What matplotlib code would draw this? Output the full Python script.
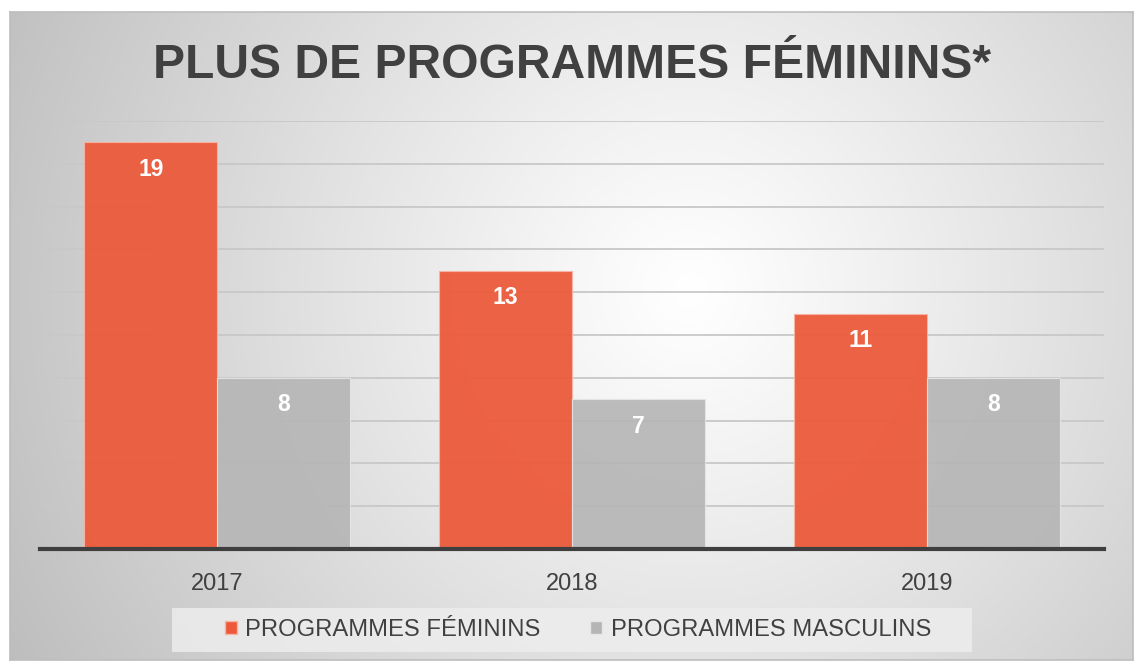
import numpy as np
import matplotlib
matplotlib.use("Agg")
import matplotlib.pyplot as plt
from matplotlib.patches import Rectangle

plt.rcParams['font.family'] = ['Liberation Sans', 'DejaVu Sans']

categories = ["2017", "2018", "2019"]
feminins = [19, 13, 11]
masculins = [8, 7, 8]
series_names = ["PROGRAMMES FÉMININS", "PROGRAMMES MASCULINS"]
title = "PLUS DE PROGRAMMES FÉMININS*"

W, H = 1135, 661
fig = plt.figure(figsize=(W / 100, H / 100), dpi=100)
fig.patch.set_facecolor("white")

# background panel with radial gradient
bx0, by0, bx1, by1 = 10, 12, 1133, 660
bg = fig.add_axes([bx0 / W, 1 - by1 / H, (bx1 - bx0) / W, (by1 - by0) / H])
yy, xx = np.mgrid[by0:by1, bx0:bx1]
cx, cy = 690, 290
d = np.sqrt(((xx - cx) / 1.0) ** 2 + ((yy - cy) / 1.0) ** 2) / 700.0
val = np.clip(1.0 - 0.23 * d ** 1.1, 0, 1)
img = np.dstack([val, val, val])
bg.imshow(img, extent=[0, 1, 0, 1], aspect="auto", interpolation="bilinear")
bg.set_xlim(0, 1); bg.set_ylim(0, 1)
bg.set_xticks([]); bg.set_yticks([])
for s in bg.spines.values():
    s.set_color("#BDBDBD"); s.set_linewidth(1.2)

# main axes
pl, pr, pt, pb = 40, 1104, 121, 549
ax = fig.add_axes([pl / W, 1 - pb / H, (pr - pl) / W, (pb - pt) / H])
ax.patch.set_alpha(0)
x = np.arange(len(categories))
w = 0.375
b1 = ax.bar(x - w / 2, feminins, w, color="#EC5A3B", alpha=0.95,
            edgecolor="#F7B4A4", linewidth=0.8, zorder=2)
b2 = ax.bar(x + w / 2, masculins, w, color="#B5B5B5", alpha=0.9,
            edgecolor="#E6E6E6", linewidth=0.8, zorder=2)
ax.set_xlim(-0.5, 2.5)
ax.set_ylim(0, 20)
ax.set_yticks(np.arange(2, 21, 2))
ax.yaxis.grid(True, color="#C8C8C8", linewidth=1.3, zorder=1)
ax.set_axisbelow(True)
ax.tick_params(axis="y", left=False, labelleft=False)
ax.tick_params(axis="x", bottom=False, pad=14, labelsize=17, labelcolor="#404040")
ax.set_xticks(x)
ax.set_xticklabels(categories)
for side in ["top", "right", "left"]:
    ax.spines[side].set_visible(False)
ax.spines["bottom"].set_color("#3F3F3F")
ax.spines["bottom"].set_linewidth(3)
ax.spines["bottom"].set_zorder(3)

for bars in (b1, b2):
    for r in bars:
        h = r.get_height()
        ax.annotate(f"{int(h)}", (r.get_x() + r.get_width() / 2, h),
                    xytext=(0, -27), textcoords="offset pixels",
                    ha="center", va="center", color="white",
                    fontsize=16.5, fontweight="bold", zorder=4)

fig.text(572 / W, 1 - 66 / H, title, ha="center", va="center",
         fontsize=34.6, fontweight="bold", color="#404040")

# legend box
lx0, lx1, ly0, ly1 = 172, 972, 608, 652
lb = Rectangle((lx0 / W, 1 - ly1 / H), (lx1 - lx0) / W, (ly1 - ly0) / H,
               transform=fig.transFigure, facecolor="#EDEDED", edgecolor="none",
               alpha=0.85, zorder=1)
fig.patches.append(lb)
handles = [Rectangle((0, 0), 1, 1, facecolor="#EC5A3B", edgecolor="#F7B4A4"),
           Rectangle((0, 0), 1, 1, facecolor="#B5B5B5", edgecolor="#E6E6E6")]
leg = fig.legend(handles, series_names, loc="center",
                 bbox_to_anchor=(578 / W, 1 - 630 / H), ncol=2, frameon=False,
                 fontsize=17.1, handlelength=0.5, handleheight=0.5,
                 handletextpad=0.35, columnspacing=2.1)
for t in leg.get_texts():
    t.set_color("#404040")

fig.savefig("out.png", dpi=100)
